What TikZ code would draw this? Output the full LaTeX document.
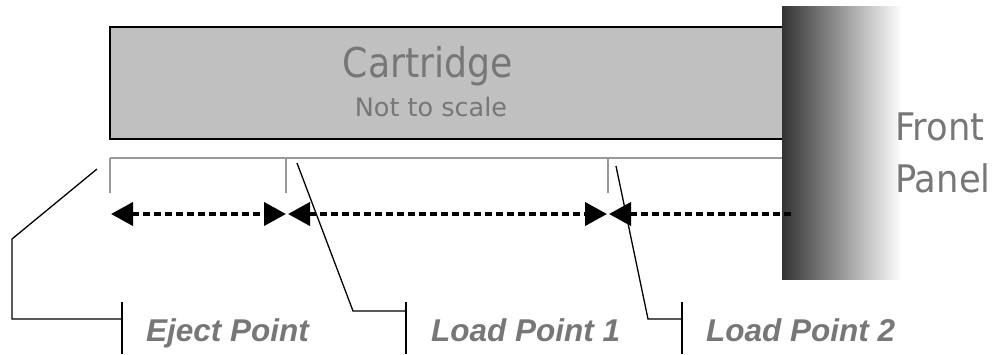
\documentclass[tikz,border=0pt]{standalone}
\usepackage{fontspec}
\usepackage{graphicx}
\newfontfamily\tahomaf{DejaVu Sans}
\newfontfamily\arialf{Liberation Sans}
\usetikzlibrary{arrows.meta}
\definecolor{txtgray}{HTML}{777777}
\definecolor{cartfill}{HTML}{C0C0C0}
\definecolor{dimgray}{HTML}{999999}
\definecolor{paneldark}{HTML}{333333}
\tikzset{
  leader/.style={draw=black, line width=1.3pt},
  dimline/.style={draw=dimgray, line width=1.5pt},
  tipshape/.style={},
  travelboth/.style={line width=4pt, dash pattern=on 7pt off 4pt, {Triangle[length=22pt,width=23pt]}-{Triangle[length=22pt,width=23pt]}},
  travelleft/.style={line width=4pt, dash pattern=on 7pt off 4pt, {Triangle[length=22pt,width=23pt]}-},
  lbl/.style={anchor=base west, inner sep=0pt, text=txtgray, font=\arialf\bfseries\itshape\fontsize{31.5}{31.5}\selectfont},
  paneltext/.style={anchor=base west, inner sep=0pt, text=txtgray, font=\tahomaf\fontsize{38}{38}\selectfont},
}
\begin{document}
\begin{tikzpicture}[x=1pt,y=-1pt]
\useasboundingbox (0,0) rectangle (997,354);
% cartridge
\draw[fill=cartfill, line width=1.5pt] (110,27) rectangle (800,139);
\node (cart) [anchor=base, inner sep=0pt, text=txtgray, font=\tahomaf\fontsize{41}{41}\selectfont] at (428,77) {\scalebox{0.885}[1]{Cartridge}};
\node (nts) [anchor=base, inner sep=0pt, text=txtgray, font=\tahomaf\fontsize{25.5}{25.5}\selectfont] at (431,116) {Not to scale};
% dimension line with ticks
\coordinate (t0) at (110,158);
\coordinate (t1) at (286,158);
\coordinate (t2) at (608,158);
\coordinate (tend) at (790,158);
\draw[dimline] (t0) -- (tend);
\draw[dimline] (t0) -- ++(0,35);
\draw[dimline] (t1) -- ++(0,35);
\draw[dimline] (t2) -- ++(0,35);
% front panel
\shade[left color=paneldark, right color=white] (782,6) rectangle (902,279);
\node (front) [paneltext] at (895,140) {\scalebox{0.93}[1]{Front}};
\node (panel) [paneltext] at (895,192) {\scalebox{0.93}[1]{Panel}};
% travel arrows
\coordinate (a0) at (111,214);
\coordinate (a1) at (286,214);
\coordinate (a1b) at (288,214);
\coordinate (a2) at (607,214);
\coordinate (a2b) at (609,214);
\coordinate (a3) at (792,214);
\draw[travelboth] (a0) -- (a1);
\draw[travelboth] (a1b) -- (a2);
\draw[travelleft] (a2b) -- (a3);
% labels
\node (ej) [lbl] at (146,341) {Eject Point};
\node (lp1) [lbl] at (431,341) {Load Point 1};
\node (lp2) [lbl] at (706,341) {Load Point 2};
% leaders
\coordinate (e0) at (97,169);
\coordinate (e1) at (12,239);
\coordinate (e2) at (12,319);
\coordinate (e3) at (122,319);
\draw[leader] (e0) -- (e1) -- (e2) -- (e3);
\draw[leader] (122,302) -- (122,354);
\coordinate (l0) at (297,163);
\coordinate (l1) at (353,311);
\coordinate (l2) at (406,311);
\draw[leader] (l0) -- (l1) -- (l2);
\draw[leader] (406,302) -- (406,354);
\coordinate (m0) at (616,166);
\coordinate (m1) at (648,319);
\coordinate (m2) at (682,319);
\draw[leader] (m0) -- (m1) -- (m2);
\draw[leader] (682,302) -- (682,354);
\end{tikzpicture}
\end{document}
